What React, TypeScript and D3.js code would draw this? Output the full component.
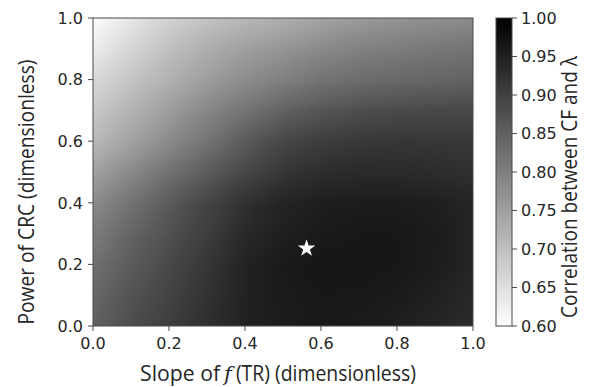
import * as d3 from "d3";
import React from "react";

// grid values: x (slope) and y (power), 0..1 step 0.1
const slopes = [0, 0.1, 0.2, 0.3, 0.4, 0.5, 0.6, 0.7, 0.8, 0.9, 1.0];
const powers = [1.0, 0.9, 0.8, 0.7, 0.6, 0.5, 0.4, 0.3, 0.2, 0.1, 0.0];
const row100 = [0.605, 0.64, 0.672, 0.695, 0.713, 0.729, 0.745, 0.758, 0.768, 0.776, 0.783];
const row090 = [0.63, 0.667, 0.70, 0.728, 0.75, 0.768, 0.785, 0.797, 0.806, 0.813, 0.818];
const row080 = [0.66, 0.693, 0.724, 0.753, 0.78, 0.80, 0.82, 0.83, 0.837, 0.842, 0.846];
const row070 = [0.686, 0.72, 0.755, 0.79, 0.82, 0.848, 0.866, 0.877, 0.884, 0.887, 0.888];
const row060 = [0.711, 0.748, 0.783, 0.82, 0.859, 0.89, 0.905, 0.912, 0.915, 0.914, 0.912];
const row050 = [0.749, 0.787, 0.824, 0.858, 0.89, 0.915, 0.93, 0.934, 0.934, 0.931, 0.925];
const row040 = [0.783, 0.822, 0.859, 0.893, 0.925, 0.943, 0.953, 0.956, 0.956, 0.951, 0.94];
const row030 = [0.805, 0.843, 0.875, 0.905, 0.935, 0.952, 0.96, 0.963, 0.962, 0.956, 0.942];
const row020 = [0.824, 0.857, 0.887, 0.915, 0.947, 0.959, 0.965, 0.965, 0.962, 0.955, 0.94];
const row010 = [0.837, 0.87, 0.895, 0.922, 0.947, 0.958, 0.962, 0.961, 0.957, 0.948, 0.935];
const row000 = [0.849, 0.88, 0.903, 0.928, 0.947, 0.956, 0.959, 0.957, 0.95, 0.942, 0.931];
const rows = [row100, row090, row080, row070, row060, row050, row040, row030, row020, row010, row000];

const best = { slope: 0.562, power: 0.252 };
const axisTicks = [0, 0.2, 0.4, 0.6, 0.8, 1.0];
const cbarTicks = [0.6, 0.65, 0.7, 0.75, 0.8, 0.85, 0.9, 0.95, 1.0];

const W = 590, H = 387;
const margin = { top: 18, left: 93, right: 117, bottom: 61 };
const pw = W - margin.left - margin.right; // 380
const ph = H - margin.top - margin.bottom; // 308
const cbar = { x: 496, w: 16 };

const tickFont = "'DejaVu Sans', sans-serif";
const labelFont = "'Open Sans', sans-serif";
const ink = "#262626";
const spine = "#4a4a4a";
const tickSize = 16;

function grayOf(v: number) {
    const t = Math.max(0, Math.min(1, (v - 0.6) / 0.4));
    const g = Math.round((1 - t) * 255);
    return `rgb(${g},${g},${g})`;
}

function makeImage() {
    const c = document.createElement("canvas");
    c.width = slopes.length;
    c.height = powers.length;
    const ctx = c.getContext("2d");
    if (!ctx) return "";
    rows.forEach((r, j) => {
        r.forEach((v, i) => {
            ctx.fillStyle = grayOf(v);
            ctx.fillRect(i, j, 1, 1);
        });
    });
    return c.toDataURL();
}

export default function App() {
    const href = React.useMemo(makeImage, []);

    const x = d3.scaleLinear().domain([0, 1]).range([0, pw]);
    const y = d3.scaleLinear().domain([0, 1]).range([ph, 0]);
    const cy = d3.scaleLinear().domain([0.6, 1.0]).range([ph, 0]);

    // image pixels are centred on the grid points
    const stepX = x(slopes[1]) - x(slopes[0]);
    const stepY = y(powers[1]) - y(powers[0]);
    const star = d3.symbol().type(d3.symbolStar).size(95)();

    return (
        <svg width={W} height={H} style={{ position: "absolute", left: 0, top: 0, background: "#fff" }}>
            <defs>
                <clipPath id="plotclip">
                    <rect x={0} y={0} width={pw} height={ph} />
                </clipPath>
                <linearGradient id="cgrad" x1="0" y1="1" x2="0" y2="0">
                    {cbarTicks.map(v => (
                        <stop key={v} offset={(v - 0.6) / 0.4} stopColor={grayOf(v)} />
                    ))}
                </linearGradient>
            </defs>
            <g transform={`translate(${margin.left},${margin.top})`}>
                <g clipPath="url(#plotclip)">
                    <image href={href} x={x(0) - stepX / 2} y={y(1) - stepY / 2}
                        width={pw + stepX} height={ph + stepY} preserveAspectRatio="none" />
                </g>
                <path d={star!} fill="#fff" transform={`translate(${x(best.slope)},${y(best.power)})`} />
                <rect x={0} y={0} width={pw} height={ph} fill="none" stroke={spine} strokeWidth={1} />
                {axisTicks.map(t => (
                    <g key={"x" + t} transform={`translate(${x(t)},${ph})`}>
                        <line y2={5} stroke={spine} />
                        <text y={23} textAnchor="middle" fontFamily={tickFont} fontSize={tickSize} fill={ink}>{t.toFixed(1)}</text>
                    </g>
                ))}
                {axisTicks.map(t => (
                    <g key={"y" + t} transform={`translate(0,${y(t)})`}>
                        <line x2={-5} stroke={spine} />
                        <text x={-10} dy="0.36em" textAnchor="end" fontFamily={tickFont} fontSize={tickSize} fill={ink}>{t.toFixed(1)}</text>
                    </g>
                ))}
            </g>
            <text x={margin.left + pw / 2 - 5} y={381} textAnchor="middle" fontFamily={labelFont} fontSize={21} fill={ink}>
                <tspan textLength={80} lengthAdjust="spacingAndGlyphs">Slope of</tspan>
                <tspan dx={4} fontStyle="italic" fontFamily="'DejaVu Serif', serif">f</tspan>
                <tspan dx={4} textLength={180} lengthAdjust="spacingAndGlyphs">(TR) (dimensionless)</tspan>
            </text>
            <text transform={`translate(34,${192}) rotate(-90)`} textAnchor="middle" fontFamily={labelFont}
                fontSize={21} fill={ink} textLength={265} lengthAdjust="spacingAndGlyphs">
                Power of CRC (dimensionless)
            </text>
            <g transform={`translate(${cbar.x},${margin.top})`}>
                <rect x={0} y={0} width={cbar.w} height={ph} fill="url(#cgrad)" stroke={spine} strokeWidth={1} />
                {cbarTicks.map(v => (
                    <g key={"c" + v} transform={`translate(${cbar.w},${cy(v)})`}>
                        <line x2={5} stroke={spine} />
                        <text x={9} dy="0.36em" fontFamily={tickFont} fontSize={tickSize} fill={ink}>{v.toFixed(2)}</text>
                    </g>
                ))}
            </g>
            <text transform={`translate(577,${187}) rotate(-90)`} textAnchor="middle" fontFamily={labelFont}
                fontSize={21} fill={ink} textLength={262} lengthAdjust="spacingAndGlyphs">
                Correlation between CF and λ
            </text>
        </svg>
    );
}
